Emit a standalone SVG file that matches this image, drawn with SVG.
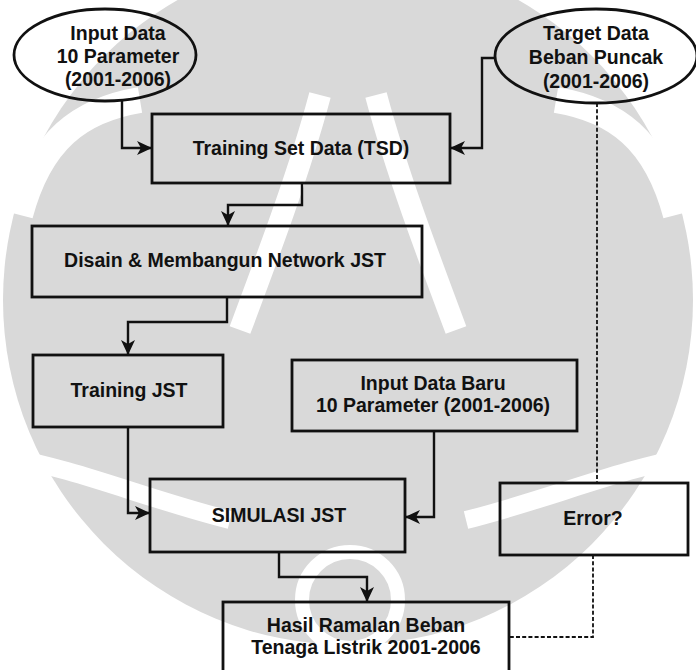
<svg xmlns="http://www.w3.org/2000/svg" width="696" height="670" viewBox="0 0 696 670">
  <style>
    .node { fill: none; stroke: #111; stroke-width: 2.8; }
    .label { font-family: "Liberation Sans", Arial, sans-serif; font-weight: bold; font-size: 19.5px; fill: #111; text-anchor: middle; }
    .link { fill: none; stroke: #111; stroke-width: 2.4; }
    .dash { fill: none; stroke: #111; stroke-width: 1.8; stroke-dasharray: 4 2.2; }
    .wm { fill: #d9d9d9; }
    .wm-cut { fill: none; stroke: #ffffff; }
  </style>
  <defs>
    <marker id="head" markerUnits="userSpaceOnUse" markerWidth="16" markerHeight="14" refX="15" refY="7" orient="auto">
      <path d="M0,0 L15,7 L0,14 L4,7 z" fill="#111"/>
    </marker>
  </defs>

  <rect width="696" height="670" fill="#ffffff"/>

  <!-- faint emblem in the background -->
  <g id="emblem">
    <circle class="wm" cx="348" cy="300" r="345"/>
    <path class="wm-cut" stroke-width="26" d="M20,215 C40,140 80,110 140,100"/>
    <path class="wm-cut" stroke-width="26" d="M676,215 C656,140 616,110 556,100"/>
    <path class="wm-cut" stroke-width="22" d="M320,95 C300,170 270,250 240,330"/>
    <path class="wm-cut" stroke-width="22" d="M376,95 C396,170 426,250 456,330"/>
    <path class="wm-cut" stroke-width="18" d="M0,455 C80,470 150,500 230,520"/>
    <path class="wm-cut" stroke-width="18" d="M696,455 C616,470 546,500 466,520"/>
    <circle class="wm-cut" cx="350" cy="600" r="48" stroke-width="14"/>
  </g>

  <g id="connectors">
    <path class="link" d="M122,100 V148 H152" marker-end="url(#head)"/>
    <path class="link" d="M495,58 H482 V148 H450" marker-end="url(#head)"/>
    <path class="link" d="M302,183 V205 H228 V226" marker-end="url(#head)"/>
    <path class="link" d="M227,297 V322 H128 V355" marker-end="url(#head)"/>
    <path class="link" d="M128,427 V513 H150" marker-end="url(#head)"/>
    <path class="link" d="M434,431 V517 H405" marker-end="url(#head)"/>
    <path class="link" d="M279,552 V577 H367 V602" marker-end="url(#head)"/>
    <path class="dash" d="M597,103 V483"/>
    <path class="dash" d="M593,555 V637 H509"/>
  </g>

  <g id="input-data">
    <ellipse class="node" cx="105" cy="55" rx="91" ry="46"/>
    <text class="label" x="118" y="40">Input Data</text>
    <text class="label" x="118" y="63">10 Parameter</text>
    <text class="label" x="118" y="86">(2001-2006)</text>
  </g>

  <g id="target-data">
    <ellipse class="node" cx="596" cy="56" rx="101" ry="47"/>
    <text class="label" x="596" y="40">Target Data</text>
    <text class="label" x="596" y="64">Beban Puncak</text>
    <text class="label" x="596" y="88">(2001-2006)</text>
  </g>

  <g id="tsd">
    <rect class="node" x="152" y="114" width="298" height="69"/>
    <text class="label" x="301" y="155">Training Set Data (TSD)</text>
  </g>

  <g id="disain">
    <rect class="node" x="32" y="226" width="390" height="71"/>
    <text class="label" x="225" y="267">Disain &amp; Membangun Network JST</text>
  </g>

  <g id="training-jst">
    <rect class="node" x="33" y="355" width="190" height="72"/>
    <text class="label" x="129" y="397">Training JST</text>
  </g>

  <g id="input-baru">
    <rect class="node" x="292" y="360" width="285" height="71"/>
    <text class="label" x="433" y="390">Input Data Baru</text>
    <text class="label" x="433" y="412">10 Parameter (2001-2006)</text>
  </g>

  <g id="simulasi">
    <rect class="node" x="150" y="479" width="255" height="73"/>
    <text class="label" x="279" y="522">SIMULASI JST</text>
  </g>

  <g id="error">
    <rect class="node" x="500" y="483" width="188" height="72"/>
    <text class="label" x="593" y="525">Error?</text>
  </g>

  <g id="hasil">
    <rect class="node" x="223" y="602" width="286" height="80"/>
    <text class="label" x="366" y="632">Hasil Ramalan Beban</text>
    <text class="label" x="366" y="654">Tenaga Listrik 2001-2006</text>
  </g>
</svg>
